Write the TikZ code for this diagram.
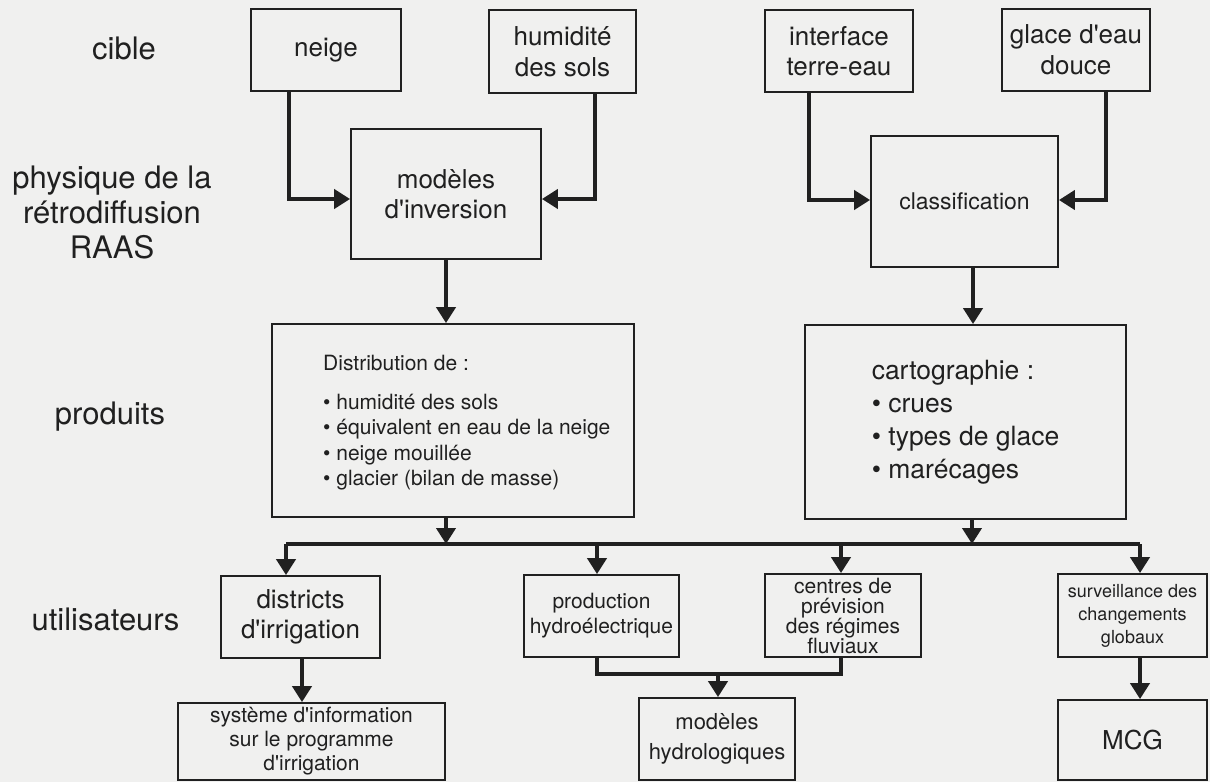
\documentclass[tikz,border=0pt]{standalone}
\usepackage{fontspec}
\setmainfont{TeX Gyre Heros}
\usetikzlibrary{arrows.meta}
\definecolor{bg}{HTML}{F0F0EF}
\definecolor{ink}{HTML}{202020}
\newcommand{\myap}{\textquotesingle}
\tikzset{
  box/.style={draw=ink, line width=1.8pt, inner sep=0pt, align=center, text=ink},
  lab/.style={text=ink, align=center, inner sep=0pt, font=\fontsize{31}{35}\selectfont},
  txt/.style={text=ink, align=left, inner sep=0pt},
  conn/.style={draw=ink, line width=4pt},
  arr/.style={conn, -{Triangle[width=19pt,length=16pt]}},
}
\begin{document}
\begin{tikzpicture}[x=1pt,y=-1pt]
\fill[bg] (0,0) rectangle (1210,782);
\useasboundingbox (0,0) rectangle (1210,782);

% left labels
\node[lab] (cible) at (124,48) {cible};
\node[lab] (phys) at (112,212) {physique de la\\rétrodiffusion\\RAAS};
\node[lab] (prodl) at (110,417) {produits};
\node[lab] (util) at (105.5,619) {utilisateurs};

% top row
\node[box, minimum width=150pt, minimum height=82pt, font=\fontsize{26}{31}\selectfont] (neige) at (326,50) {neige};
\node[box, minimum width=147pt, minimum height=83pt, font=\fontsize{26}{31}\selectfont] (hum) at (562.5,51.5) {humidité\\des sols};
\node[box, minimum width=148pt, minimum height=82pt, font=\fontsize{26}{30}\selectfont] (inter) at (839,51) {interface\\terre-eau};
\node[box, minimum width=148pt, minimum height=82pt, font=\fontsize{26}{31}\selectfont] (glace) at (1076,50) {glace d\myap eau\\douce};

% second row
\node[box, minimum width=190pt, minimum height=130pt, font=\fontsize{26}{30}\selectfont] (inv) at (446,194) {modèles\\d\myap inversion};
\node[box, minimum width=187pt, minimum height=131pt, font=\fontsize{23}{28}\selectfont] (class) at (964.5,201.5) {classification};

% products
\node[box, minimum width=362pt, minimum height=193pt] (dist) at (453,420.5) {};
\node[txt, anchor=west, font=\fontsize{21}{24}\selectfont] (disthead) at (323,363) {Distribution de :};
\node[txt, anchor=west, font=\fontsize{21}{25.5}\selectfont] (distlist) at (323,442)
  {• humidité des sols\\• équivalent en eau de la neige\\• neige mouillée\\• glacier (bilan de masse)};
\node[box, minimum width=321pt, minimum height=194pt, align=left, font=\fontsize{26.5}{33}\selectfont] (carto) at (965.5,422)
  {cartographie :\\• crues\\• types de glace\\• marécages};

% users
\node[box, minimum width=159pt, minimum height=82pt, font=\fontsize{26}{30}\selectfont] (districts) at (300.5,617) {districts\\d\myap irrigation};
\node[box, minimum width=155pt, minimum height=82pt, font=\fontsize{21}{25}\selectfont] (prod) at (601.5,616) {production\\hydroélectrique};
\node[box, minimum width=156pt, minimum height=83pt, font=\fontsize{21}{20}\selectfont] (centres) at (843,615.5) {centres de\\prévision\\des régimes\\fluviaux};
\node[box, minimum width=149pt, minimum height=83pt, font=\fontsize{18}{23}\selectfont] (surv) at (1132.5,615.5) {surveillance des\\changements\\globaux};

% bottom row
\node[box, minimum width=267pt, minimum height=77pt, font=\fontsize{21}{24}\selectfont] (sys) at (311.5,741.5) {système d\myap information\\sur le programme\\d\myap irrigation};
\node[box, minimum width=156pt, minimum height=82pt, font=\fontsize{22}{30}\selectfont] (hydro) at (717,739) {modèles\\hydrologiques};
\node[box, minimum width=149pt, minimum height=80pt, font=\fontsize{26}{30}\selectfont] (mcg) at (1132.5,740) {MCG};

% connectors top
\draw[arr] ([xshift=-37pt]neige.south) |- ([yshift=-5pt]inv.west);
\draw[arr] ([xshift=32.5pt]hum.south) |- ([yshift=-5pt]inv.east);
\draw[arr] ([xshift=-30pt]inter.south) |- ([yshift=1.5pt]class.west);
\draw[arr] ([xshift=30pt]glace.south) |- ([yshift=1.5pt]class.east);

\draw[arr] (inv.south) -- (inv.south |- dist.north);
\draw[arr] ([xshift=8.5pt]class.south) -- ([xshift=8.5pt]class.south |- carto.north);

% bus
\coordinate (busL) at (286,544);
\coordinate (busR) at (1140,544);
\draw[conn] (busL) -- (busR);
\draw[arr] (inv.south |- dist.south) -- (inv.south |- busL);
\draw[arr] ([xshift=6.5pt]carto.south) -- ([xshift=6.5pt]carto.south |- busL);

\draw[arr] (busL) -- (busL |- districts.north);
\draw[arr] ([xshift=-4.5pt]prod.north |- busL) -- ([xshift=-4.5pt]prod.north);
\draw[arr] ([xshift=-2pt]centres.north |- busL) -- ([xshift=-2pt]centres.north);
\draw[arr] (busR) -- (busR |- surv.north);

% lower connectors
\draw[arr] ([xshift=1.5pt]districts.south) -- ([xshift=1.5pt]districts.south |- sys.north);
\coordinate (join) at (718,674);
\draw[conn] ([xshift=-4.5pt]prod.south) |- (join) -| ([xshift=-2pt]centres.south);
\draw[arr] (join) -- (join |- hydro.north);
\draw[arr] ([xshift=7.5pt]surv.south) -- ([xshift=7.5pt]surv.south |- mcg.north);
\end{tikzpicture}
\end{document}
